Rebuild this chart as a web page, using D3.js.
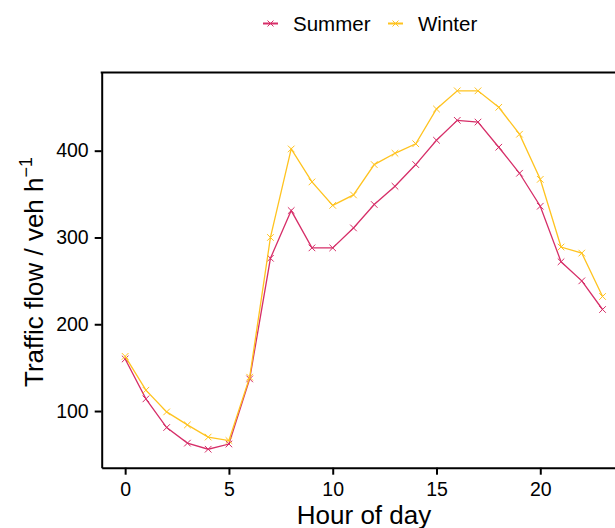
<!DOCTYPE html>
<html>
<head>
<meta charset="utf-8">
<script src="https://cdn.jsdelivr.net/npm/d3@7"></script>
<style>
  body { margin: 0; background: #fff; }
  svg { font-family: "Liberation Sans", Arial, sans-serif; }
</style>
</head>
<body>
<div id="chart"></div>
<script>
var hours = d3.range(0, 24);
var summer = [160, 114, 81, 63, 56, 62, 137, 276, 331, 288, 288, 311, 338, 359, 384, 412, 435, 433, 404, 374, 336, 272, 250, 217];
var winter = [163, 124, 99, 84, 70, 66, 139, 300, 402, 364, 337, 349, 384, 397, 408, 448, 469, 469, 450, 419, 367, 289, 282, 232];
var seriesNames = ["Summer", "Winter"];
var seriesColors = ["#d62e68", "#ffc31f"];
var xTicks = [0, 5, 10, 15, 20];
var yTicks = [100, 200, 300, 400];

var width = 615, height = 528;
var pLeft = 101.7, pTop = 72.5, pRight = 615, pBottom = 467.7;

var svg = d3.select("#chart").append("svg")
  .attr("width", width)
  .attr("height", height);

var x = d3.scaleLinear().domain([-1.13, 23.6]).range([pLeft, pRight]);
var y = d3.scaleLinear().domain([34.7, 490.1]).range([pBottom, pTop]);

// axes
svg.append("g")
  .attr("transform", "translate(0," + pBottom + ")")
  .call(d3.axisBottom(x).tickValues(xTicks).tickSize(7).tickPadding(7).tickSizeOuter(0))
  .call(function(g){
    g.attr("font-size", null).attr("font-family", null);
    g.select(".domain").attr("stroke-width", 2);
    g.selectAll(".tick line").attr("stroke-width", 2);
    g.selectAll("text").style("font-size", "19.5px").attr("fill", "#000");
  });

svg.append("g")
  .attr("transform", "translate(" + pLeft + ",0)")
  .call(d3.axisLeft(y).tickValues(yTicks).tickSize(7).tickPadding(6).tickSizeOuter(0))
  .call(function(g){
    g.attr("font-size", null).attr("font-family", null);
    g.select(".domain").attr("stroke-width", 2);
    g.selectAll(".tick line").attr("stroke-width", 2);
    g.selectAll("text").style("font-size", "19.5px").attr("fill", "#000");
  });

// top border
svg.append("line")
  .attr("x1", pLeft - 1).attr("x2", pRight)
  .attr("y1", pTop).attr("y2", pTop)
  .attr("stroke", "#000").attr("stroke-width", 2.2);

// titles
svg.append("text")
  .attr("x", 364)
  .attr("y", 524)
  .attr("text-anchor", "middle")
  .style("font-size", "26px")
  .text("Hour of day");

var yt = svg.append("text")
  .attr("transform", "translate(43,272) rotate(-90)")
  .attr("text-anchor", "middle")
  .style("font-size", "26px");
yt.append("tspan").text("Traffic flow / veh h");
yt.append("tspan").attr("dy", -11).style("font-size", "18px").text("\u22121");

// lines and markers
var data = [summer, winter];
var line = d3.line().x(function(d, i){ return x(hours[i]); }).y(function(d){ return y(d); });
var m = 3.3;

data.forEach(function(vals, k){
  var g = svg.append("g");
  g.append("path")
    .attr("d", line(vals))
    .attr("fill", "none")
    .attr("stroke", seriesColors[k])
    .attr("stroke-width", 1.3);
  g.selectAll(".mk")
    .data(vals)
    .enter().append("path")
    .attr("d", function(d, i){
      var cx = x(hours[i]), cy = y(d);
      return "M" + (cx - m) + "," + (cy - m) + "L" + (cx + m) + "," + (cy + m) +
             "M" + (cx - m) + "," + (cy + m) + "L" + (cx + m) + "," + (cy - m);
    })
    .attr("stroke", seriesColors[k])
    .attr("stroke-width", 1);
});

// legend
var legX = [263, 388];
seriesNames.forEach(function(name, k){
  var lg = svg.append("g").attr("transform", "translate(" + legX[k] + ",23.5)");
  lg.append("line").attr("x1", 0).attr("x2", 15).attr("y1", 0).attr("y2", 0)
    .attr("stroke", seriesColors[k]).attr("stroke-width", 2);
  lg.append("path")
    .attr("d", "M4.5,-3L10.5,3M4.5,3L10.5,-3")
    .attr("stroke", seriesColors[k]).attr("stroke-width", 1);
  lg.append("text").attr("x", 30).attr("y", 7.5)
    .style("font-size", "20.5px")
    .text(name);
});
</script>
</body>
</html>
